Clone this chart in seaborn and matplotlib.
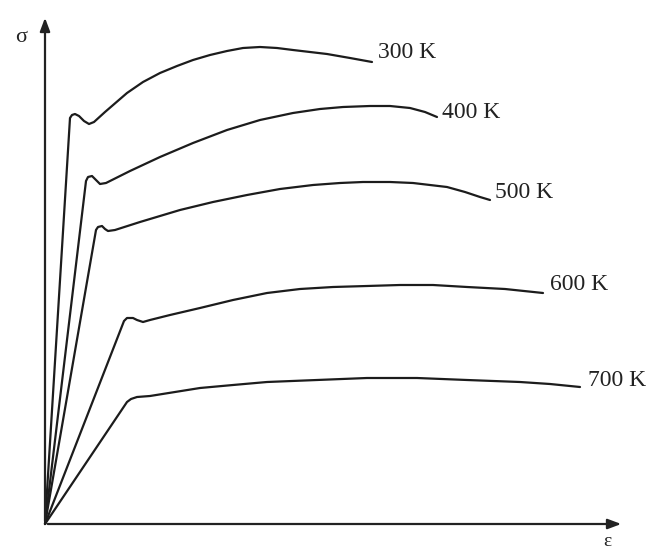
import numpy as np
import pandas as pd
import matplotlib
matplotlib.use("Agg")
import matplotlib.pyplot as plt
import seaborn as sns

# Data in arbitrary units (strain, stress)
temps = ["300 K", "400 K", "500 K", "600 K", "700 K"]

strain_300 = [0, 25, 27, 30, 34, 39, 44, 49, 60, 82, 98, 115, 132, 148, 165, 182, 198, 215, 232, 248, 265, 282, 305, 327]
stress_300 = [0, 406, 409, 410, 408, 403, 400, 402, 412, 431, 442, 451, 458, 464, 469, 473, 476, 477, 476, 474, 472, 470, 466, 462]

strain_400 = [0, 41, 43, 47, 51, 55, 61, 85, 115, 148, 182, 215, 248, 275, 298, 325, 345, 365, 380, 392]
stress_400 = [0, 343, 347, 348, 344, 340, 341, 353, 367, 381, 394, 404, 411, 415, 417, 418, 418, 416, 412, 407]

strain_500 = [0, 51, 53, 57, 60, 63, 70, 95, 135, 168, 202, 235, 268, 295, 318, 345, 368, 385, 402, 420, 435, 445]
stress_500 = [0, 294, 297, 298, 295, 293, 294, 302, 314, 322, 329, 335, 339, 341, 342, 342, 341, 339, 337, 332, 327, 324]

strain_600 = [0, 79, 82, 88, 92, 98, 105, 125, 155, 188, 222, 255, 288, 322, 355, 388, 422, 460, 498]
stress_600 = [0, 203, 206, 206, 204, 202, 204, 209, 216, 224, 231, 235, 237, 238, 239, 239, 237, 235, 231]

strain_700 = [0, 82, 86, 92, 105, 155, 188, 222, 272, 322, 372, 422, 475, 505, 535]
stress_700 = [0, 122, 125, 127, 128, 136, 139, 142, 144, 146, 146, 144, 142, 140, 137]

label_x = [333, 397, 450, 505, 543]
label_y = [472, 412, 331, 239, 143]

strains = [strain_300, strain_400, strain_500, strain_600, strain_700]
stresses = [stress_300, stress_400, stress_500, stress_600, stress_700]

frames = []
for t, e, s in zip(temps, strains, stresses):
    frames.append(pd.DataFrame({"strain": e, "stress": s, "T": t}))
df = pd.concat(frames, ignore_index=True)

sns.set_style("white")
plt.rcParams['font.family'] = ['Liberation Serif', 'DejaVu Serif']

fig = plt.figure(figsize=(6.59, 5.51), dpi=100)
ax = fig.add_axes([0, 0, 1, 1])

sns.lineplot(data=df, x="strain", y="stress", hue="T", units="T", estimator=None,
             sort=False, palette=["#1c1c1c"] * 5, linewidth=1.6, legend=False, ax=ax)
for ln in ax.get_lines():
    ln.set_solid_joinstyle("round")
    ln.set_solid_capstyle("round")

for t, lx, ly in zip(temps, label_x, label_y):
    ax.text(lx, ly, t, fontsize=17, color="#222222", va="center", ha="left")

# axes with arrows
ax.annotate("", xy=(0, 509), xytext=(0, 0),
            arrowprops=dict(arrowstyle="-|>,head_length=0.8,head_width=0.3", color="#222222", lw=1.6))
ax.annotate("", xy=(579, 0), xytext=(0, 0),
            arrowprops=dict(arrowstyle="-|>,head_length=0.8,head_width=0.3", color="#222222", lw=1.6))
ax.text(-24, 487, "σ", fontsize=16, color="#222222", ha="center", va="center")
ax.text(562, -17, "ε", fontsize=14, color="#222222", ha="center", va="center")

ax.set_xlim(-45, 614)
ax.set_ylim(-27, 524)
ax.set_axis_off()

fig.savefig("out.png", dpi=100)
